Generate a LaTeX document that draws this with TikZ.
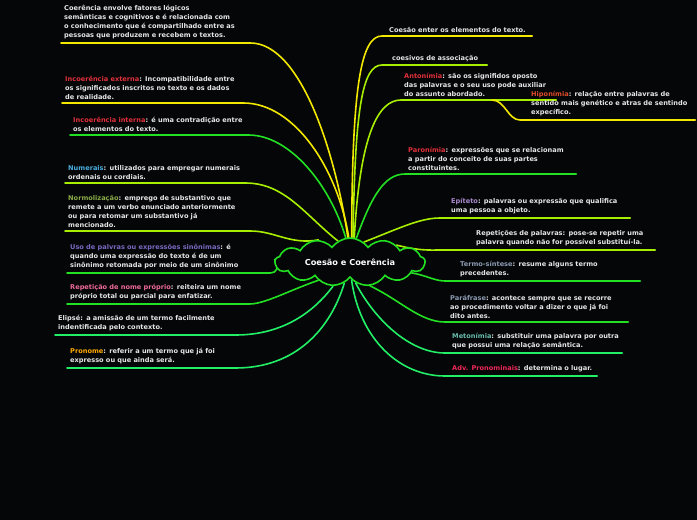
\documentclass[tikz,border=0pt]{standalone}
\usepackage{fontspec}
\setmainfont{DejaVu Sans}
\usepackage{xcolor}
\definecolor{bg}{HTML}{050608}
\definecolor{txt}{HTML}{E6E6E6}
\definecolor{yel}{HTML}{F2E800}
\definecolor{lim}{HTML}{A8EE00}
\definecolor{grn}{HTML}{22E022}
\definecolor{spr}{HTML}{22EE66}
\definecolor{cred}{HTML}{E0303A}
\definecolor{corr}{HTML}{E04A2A}
\definecolor{cblu}{HTML}{4AAEE0}
\definecolor{colv}{HTML}{8AAA4A}
\definecolor{cpur}{HTML}{7A68C0}
\definecolor{cpnk}{HTML}{EE6A9A}
\definecolor{corg}{HTML}{FFAA00}
\definecolor{clav}{HTML}{AA8ACC}
\definecolor{cgry}{HTML}{8A9AB0}
\definecolor{ctea}{HTML}{66BBAA}
\definecolor{ccri}{HTML}{EE2858}
\usepackage{tikz}
\usetikzlibrary{shapes.symbols,backgrounds}
\tikzset{
  tp/.style={anchor=south west,align=left,inner xsep=3pt,inner ysep=3.5pt,text=txt,
    font=\fontsize{6.6}{9}\selectfont\bfseries},
  br/.style={line width=1.6pt,line cap=round},
  yb/.style={br,draw=yel},
  lb/.style={br,draw=lim},
  gb/.style={br,draw=grn},
  sb/.style={br,draw=spr},
}
\newcommand{\lbl}[2]{\textcolor{#1}{#2}}

\begin{document}
\begin{tikzpicture}[x=1pt,y=-1pt]
\node[cloud,cloud puffs=13,cloud puff arc=110,aspect=4,draw=grn,line width=1.6pt,fill=bg,
  minimum width=150pt,minimum height=38pt,inner sep=1pt,text=white,
  font=\fontsize{8.2}{10}\selectfont\bfseries] (c) at (350,262) {Coesão e Coerência};
% left side
\node[tp,text width=183pt] (co) at (61,43) {Coerência envolve fatores lógicos\\semânticas e cognitivos e é relacionada com\\o conhecimento que é compartilhado entre as\\pessoas que produzem e recebem o textos.};
\node[tp,text width=175pt] (ext) at (62,103) {\lbl{cred}{Incoerência externa}: Incompatibilidade entre\\os significados inscritos no texto e os dados\\de realidade.};
\node[tp,text width=172pt] (int) at (70,135) {\lbl{cred}{Incoerência interna}: é uma contradição entre\\os elementos do texto.};
\node[tp,text width=174pt] (num) at (65,183) {\lbl{cblu}{Numerais}: utilizados para empregar numerais\\ordenais ou cordiais.};
\node[tp,text width=179pt] (nor) at (65,231) {\lbl{colv}{Normolização}: emprego de substantivo que\\remete a um verbo enunciado anteriormente\\ou para retomar um substantivo já\\mencionado.};
\node[tp,text width=197pt] (uso) at (67,273) {\lbl{cpur}{Uso de palvras ou expressões sinônimas}: é\\quando uma expressão do texto é de um\\sinônimo retomada por meio de um sinônimo};
\node[tp,text width=176pt] (rep) at (67,304) {\lbl{cpnk}{Repetição de nome próprio}: reiteira um nome\\próprio total ou parcial para enfatizar.};
\node[tp,text width=174pt] (eli) at (55,335) {Elipsé: a amissão de um termo facilmente\\indentificada pelo contexto.};
\node[tp,text width=162pt] (pro) at (67,368) {\lbl{corg}{Pronome}: referir a um termo que já foi\\expresso ou que ainda será.};
% right side
\node[tp,text width=140pt] (ces) at (386,36) {Coesão enter os elementos do texto.};
\node[tp,text width=92pt] (cav) at (389,65) {coesivos de associação};
\node[tp,text width=149pt] (ant) at (401,100) {\lbl{cred}{Antonímia}: são os signifidos oposto\\das palavras e o seu uso pode auxiliar\\do assunto abordado.};
\node[tp,text width=161pt] (hip) at (528,120) {\lbl{corr}{Hiponímia}: relação entre palavras de\\sentido mais genético e atras de sentindo\\expecífico.};
\node[tp,text width=165pt] (par) at (405,174) {\lbl{cred}{Paronímia}: expressões que se relacionam\\a partir do conceito de suas partes\\constituintes.};
\node[tp,text width=176pt] (epi) at (448,218) {\lbl{clav}{Epíteto}: palavras ou expressão que qualifica\\uma pessoa a objeto.};
\node[tp,text width=176pt] (rpp) at (473,250) {Repetições de palavras: pose-se repetir uma\\palavra quando não for possível substituí-la.};
\node[tp,text width=177pt] (ter) at (457,281) {\lbl{cgry}{Termo-síntese}: resume alguns termo\\precedentes.};
\node[tp,text width=175pt] (paf) at (447,322) {\lbl{cgry}{Paráfrase}: acontece sempre que se recorre\\ao procedimento voltar a dizer o que já foi\\dito antes.};
\node[tp,text width=167pt] (met) at (449,353) {\lbl{ctea}{Metonímia}: substituir uma palavra por outra\\que possui uma relação semântica.};
\node[tp,text width=142pt] (adv) at (449,376) {\lbl{ccri}{Adv. Pronominais}: determina o lugar.};
\begin{pgfonlayer}{background}
\fill[bg] (0,0) rectangle (697,520);
\draw[yb] (c.95) .. controls (335,150) and (300,43) .. (co.south east) -- (co.south west);
\draw[yb] (c.93) .. controls (338,170) and (295,103) .. (ext.south east) -- (ext.south west);
\draw[gb] (c.100) .. controls (330,185) and (290,135) .. (int.south east) -- (int.south west);
\draw[lb] (c.120) .. controls (305,215) and (285,183) .. (num.south east) -- (num.south west);
\draw[lb] (c.145) .. controls (290,245) and (275,231) .. (nor.south east) -- (nor.south west);
\draw[gb] (c.178) .. controls (280,268) and (276,273) .. (uso.south east) -- (uso.south west);
\draw[gb] (c.210) .. controls (290,290) and (265,304) .. (rep.south east) -- (rep.south west);
\draw[sb] (c.235) .. controls (315,310) and (285,335) .. (eli.south east) -- (eli.south west);
\draw[sb] (c.255) .. controls (330,330) and (295,368) .. (pro.south east) -- (pro.south west);
\draw[yb] (c.86) .. controls (352,80) and (362,36) .. ([xshift=-4pt]ces.south west) -- (ces.south east);
\draw[lb] (c.83) .. controls (355,110) and (362,65) .. ([xshift=-7pt]cav.south west) -- (cav.south east);
\draw[lb] (c.80) .. controls (360,135) and (378,100) .. (ant.south west) -- (ant.south east);
\draw[yb] ([xshift=91pt]ant.south west) .. controls (505,100) and (508,120) .. ([xshift=-8pt]hip.south west) -- (hip.south east);
\draw[gb] (c.75) .. controls (372,195) and (385,174) .. (par.south west) -- (par.south east);
\draw[lb] (c.55) .. controls (400,228) and (420,218) .. ([xshift=-8pt]epi.south west) -- (epi.south east);
\draw[lb] (c.20) .. controls (420,251) and (430,250) .. ([xshift=-33pt]rpp.south west) -- (rpp.south east);
\draw[gb] (c.-10) .. controls (425,275) and (435,281) .. ([xshift=-12pt]ter.south west) -- (ter.south east);
\draw[gb] (c.-50) .. controls (400,300) and (420,322) .. ([xshift=-2pt]paf.south west) -- (paf.south east);
\draw[sb] (c.-75) .. controls (375,320) and (410,353) .. ([xshift=-4pt]met.south west) -- (met.south east);
\draw[sb] (c.-85) .. controls (360,340) and (400,376) .. ([xshift=-4pt]adv.south west) -- (adv.south east);
\end{pgfonlayer}
\end{tikzpicture}
\end{document}
